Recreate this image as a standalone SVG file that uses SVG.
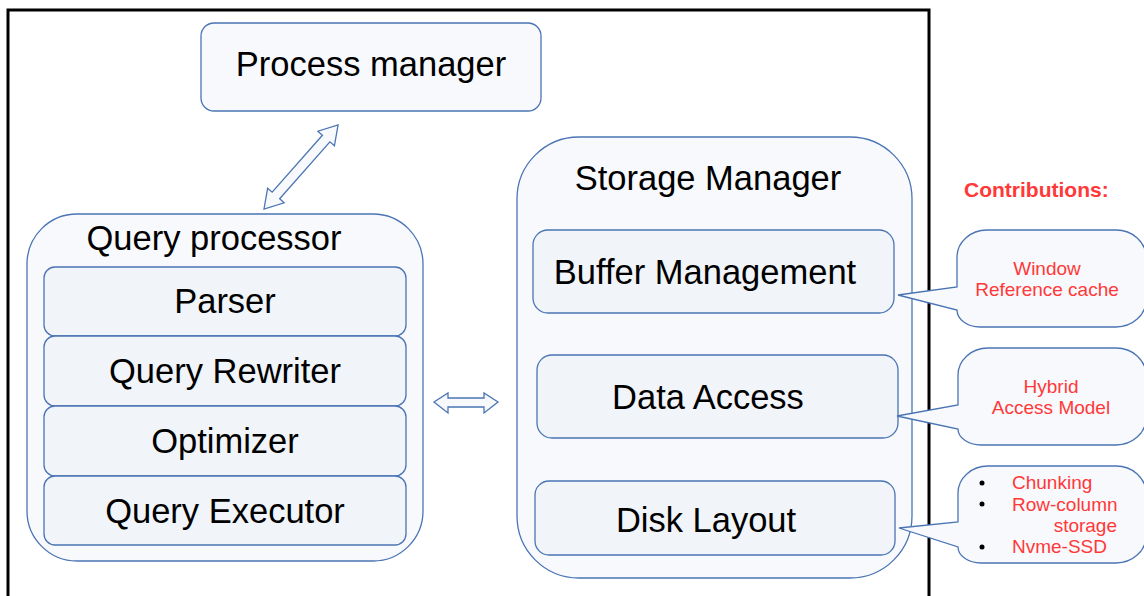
<svg xmlns="http://www.w3.org/2000/svg" width="1144" height="596" viewBox="0 0 1144 596">
<style>
.outer{fill:#F8F9FC;stroke:#4A74B4;stroke-width:1.3}
.inner{fill:#F1F4F9;stroke:#4A74B4;stroke-width:1.3}
.t{font-family:"Liberation Sans",Arial,sans-serif;font-size:34.5px;fill:#000;text-anchor:middle}
.r{font-family:"Liberation Sans",Arial,sans-serif;font-size:19px;fill:#FF3838}
.rc{text-anchor:middle}
.arrow{fill:#F8F9FC;stroke:#4A74B4;stroke-width:1.3;stroke-linejoin:miter}
.callout{fill:#F8F9FC;stroke:#4A74B4;stroke-width:1.3}
</style>
<rect width="1144" height="596" fill="#fff"/>
<path d="M8,600 V10 H929 V600" fill="none" stroke="#000" stroke-width="3"/>

<g id="process-manager">
<rect class="outer" x="201" y="23" width="340" height="88" rx="13"/>
<text class="t" x="371" y="76">Process manager</text>
</g>

<g id="query-processor">
<rect class="outer" x="27" y="214" width="396" height="347" rx="50"/>
<text class="t" x="214" y="250">Query processor</text>
</g>
<g id="parser">
<rect class="inner" x="44" y="267" width="362" height="69" rx="11"/>
<text class="t" x="225" y="313">Parser</text>
</g>
<g id="query-rewriter">
<rect class="inner" x="44" y="336" width="362" height="70" rx="11"/>
<text class="t" x="225" y="383">Query Rewriter</text>
</g>
<g id="optimizer">
<rect class="inner" x="44" y="406" width="362" height="70" rx="11"/>
<text class="t" x="225" y="453">Optimizer</text>
</g>
<g id="query-executor">
<rect class="inner" x="44" y="476" width="362" height="69" rx="11"/>
<text class="t" x="225" y="523">Query Executor</text>
</g>

<g id="storage-manager">
<rect class="outer" x="517" y="137" width="395" height="441" rx="62"/>
<text class="t" x="708" y="190">Storage Manager</text>
</g>
<g id="buffer-management">
<rect class="inner" x="533" y="230" width="361" height="83" rx="15"/>
<text class="t" x="705" y="284">Buffer Management</text>
</g>
<g id="data-access">
<rect class="inner" x="537" y="355" width="361" height="83" rx="15"/>
<text class="t" x="708" y="409">Data Access</text>
</g>
<g id="disk-layout">
<rect class="inner" x="535" y="481" width="360" height="74" rx="14"/>
<text class="t" x="706" y="532">Disk Layout</text>
</g>

<g id="connectors">
<path class="arrow" transform="translate(264,209) rotate(-48.6)" d="M0,0 L18,-11 L18,-5 L94,-5 L94,-11 L112,0 L94,11 L94,5 L18,5 L18,11 Z"/>
<path class="arrow" d="M434,402 L448,393 L448,398 L484,398 L484,393 L498,402 L484,413 L484,407 L448,407 L448,413 Z"/>
</g>

<text class="r" x="964" y="197" style="font-weight:bold;font-size:21px">Contributions:</text>

<g id="callout-buffer">
<path class="callout" d="M957,287 V257 A30,27 0 0 1 987,230 H1116 A30,27 0 0 1 1146,257 V300 A30,27 0 0 1 1116,327 H980 A23,17 0 0 1 957,310 L898,295 Z"/>
<text class="r rc" x="1047" y="275">Window</text>
<text class="r rc" x="1047" y="296">Reference cache</text>
</g>
<g id="callout-access">
<path class="callout" d="M958,405 V375 A30,27 0 0 1 988,348 H1116 A30,27 0 0 1 1146,375 V418 A30,27 0 0 1 1116,445 H981 A23,16 0 0 1 958,429 L897,416 Z"/>
<text class="r rc" x="1051" y="393">Hybrid</text>
<text class="r rc" x="1051" y="414">Access Model</text>
</g>
<g id="callout-layout">
<path class="callout" d="M958,522 V493 A30,27 0 0 1 988,466 H1116 A30,27 0 0 1 1146,493 V536 A30,27 0 0 1 1116,563 H981 A23,16 0 0 1 958,547 L899,528 Z"/>
<circle cx="982" cy="483" r="2.5" fill="#000"/>
<circle cx="982" cy="504" r="2.5" fill="#000"/>
<circle cx="982" cy="547" r="2.5" fill="#000"/>
<text class="r" x="1012" y="489">Chunking</text>
<text class="r" x="1012" y="511">Row-column</text>
<text class="r" x="1117" y="532" style="text-anchor:end">storage</text>
<text class="r" x="1012" y="553">Nvme-SSD</text>
</g>
</svg>
